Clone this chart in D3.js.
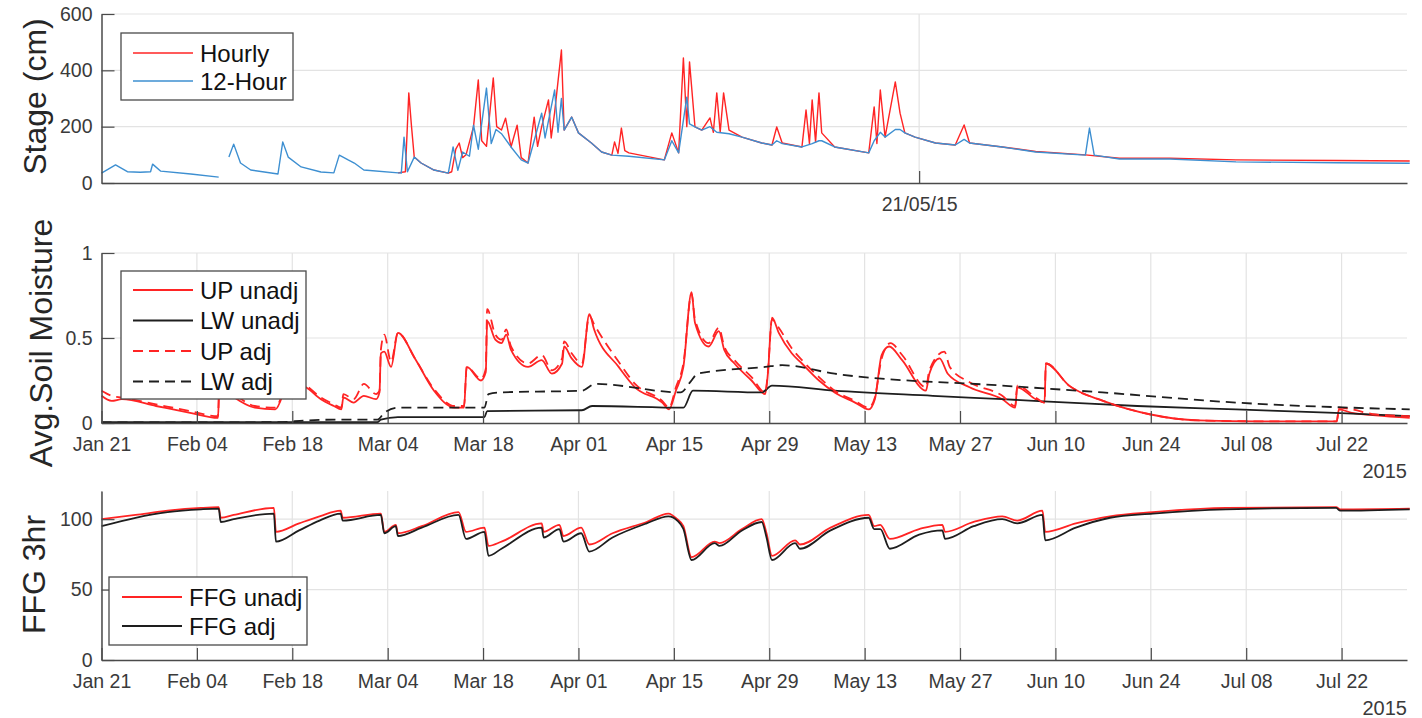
<!DOCTYPE html>
<html>
<head>
<meta charset="utf-8">
<script src="https://cdn.jsdelivr.net/npm/d3@7"></script>
<style>
	body { margin: 0; background: #fff; }
	svg { display: block; font-family: "Liberation Sans", Arial, Helvetica, sans-serif; }
</style>
</head>
<body>
<svg id="chart" width="1422" height="718"></svg>
<script>
// All series: [days since Jan 21 2015, value]
const stageHourly = [
	[43.5,36],[44.6,40],[45.1,320],[45.5,200],[45.9,92],[46.9,71],[48.8,46],[50.9,35],[51.4,40],[52.0,120],
	[52.5,142],[53.0,90],[53.5,100],[54.6,200],[55.3,366],[55.8,150],[56.5,130],[57.5,373],[58.0,200],[58.7,188],
	[59.3,230],[60.1,128],[61.0,205],[61.6,90],[62.6,71],[63.5,234],[64.0,130],[64.6,200],[65.6,295],[66.0,160],
	[66.5,250],[67.5,472],[67.9,188],[69.0,234],[70.0,178],[71.9,142],[73.4,110],[74.9,99],[75.3,146],[75.8,105],
	[76.3,195],[76.8,115],[77.4,107],[82.6,82],[83.7,178],[84.7,107],[85.4,444],[85.9,200],[86.3,430],[87.1,199],
	[88.1,188],[89.3,231],[89.8,180],[90.3,320],[90.8,180],[91.3,320],[92.1,188],[94.0,163],[96.9,142],[98.4,135],
	[99.1,199],[99.9,142],[102.8,128],[103.4,259],[103.9,140],[104.3,295],[104.8,145],[105.3,320],[105.7,178],[107.6,128],
	[112.6,107],[113.4,270],[113.8,140],[114.3,330],[115.0,163],[116.5,359],[117.2,248],[117.9,178],[119.4,163],[122.4,142],
	[125.3,135],[126.6,206],[127.4,142],[132.2,128],[137.1,112],[144.4,100],[149.4,88],[156.8,88],[166.5,82],[181.2,80],[192,78]
];
const stage12h = [
	[0,35],[2.06,64],[3.8,40],[5.7,38],[7.2,40],[7.5,67],[8.7,42],[13.1,32],[17.2,21],[17.9,null],
	[18.7,92],[19.4,138],[20.4,71],[21.9,46],[25.9,32],[26.6,146],[27.4,92],[29.3,57],[32.2,39],[34.1,36],
	[34.9,99],[36.2,82],[37.1,71],[38.5,46],[44.0,35],[44.4,163],[44.9,40],[45.9,92],[46.9,71],[48.8,46],
	[50.9,35],[51.6,128],[52.3,45],[53.0,110],[54.0,95],[54.6,205],[55.3,120],[56.5,337],[57.2,140],[57.9,190],
	[58.7,175],[60.1,128],[61.6,82],[62.6,71],[63.5,150],[64.6,248],[65.1,160],[66.5,330],[67.0,180],[67.5,300],
	[67.9,188],[69.0,234],[70.0,178],[71.9,142],[73.4,110],[74.9,99],[77.4,95],[82.6,82],[83.7,150],[84.7,107],
	[85.9,305],[86.3,210],[87.1,199],[88.1,188],[89.3,200],[90.3,180],[92.1,175],[94.0,163],[96.9,142],[98.4,135],
	[99.1,150],[99.9,140],[102.8,128],[104.3,140],[105.3,150],[105.7,150],[107.6,128],[112.6,107],[113.4,150],[114.3,180],
	[115.0,163],[116.5,190],[117.2,190],[117.9,178],[119.4,163],[122.4,142],[125.3,135],[126.6,155],[127.4,142],[132.2,128],
	[137.1,110],[144.4,99],[145.0,195],[145.7,99],[149.4,85],[156.8,85],[166.5,75],[181.2,72],[192,70]
];

const upUnadj = [
	[0,0.16],[1.5,0.13],[3,0.14],[8,0.10],[13,0.06],[17.1,0.03],[17.3,0.22],[19.5,0.15],[22.5,0.09],[25.5,0.08],
	[27.6,0.24],[30,0.21],[32.2,0.14],[34.1,0.10],[35.2,0.08],[35.5,0.15],[37,0.12],[38.5,0.16],[40.3,0.14],[40.8,0.18],
	[41.0,0.41],[41.5,0.42],[42.5,0.33],[43.5,0.53],[46,0.38],[48.8,0.19],[51.8,0.09],[53.2,0.09],[53.6,0.33],[55.7,0.25],
	[56.4,0.30],[56.6,0.60],[57.8,0.49],[58.7,0.47],[59.4,0.52],[60.1,0.43],[62.6,0.33],[64.6,0.37],[66.1,0.29],[67.6,0.35],
	[67.9,0.45],[69.0,0.38],[70.5,0.33],[71.6,0.64],[72.3,0.55],[75.9,0.33],[78.3,0.21],[82.3,0.12],[83.3,0.08],[84.3,0.19],
	[85.4,0.33],[86.6,0.77],[87.1,0.59],[89.1,0.45],[90.6,0.54],[91.4,0.43],[92.9,0.35],[95.4,0.25],[97.4,0.17],[97.8,0.29],
	[98.4,0.62],[99.4,0.53],[101.3,0.41],[102.8,0.35],[105.3,0.25],[107.6,0.18],[110.6,0.12],[112.6,0.08],[113.5,0.14],[114.5,0.40],
	[115.6,0.45],[117.5,0.37],[121,0.19],[121.5,0.29],[123.0,0.38],[124.2,0.29],[127.4,0.21],[132.2,0.14],[134.1,0.09],[134.4,0.21],
	[137.1,0.14],[138.4,0.12],[138.6,0.35],[142,0.22],[147,0.13],[154,0.05],[161,0.015],[170,0.01],[181.3,0.01],[181.6,0.08],
	[183.5,0.06],[187,0.045],[192,0.03]
];
const lwUnadj = [
	[0,0.005],[40.5,0.005],[41.0,0.02],[43.5,0.035],[56.2,0.035],[56.6,0.07],[70.5,0.075],[72,0.10],[85.4,0.09],[86.8,0.19],
	[96.9,0.18],[98.4,0.22],[107.6,0.19],[122,0.16],[132.2,0.14],[142,0.12],[152,0.10],[166.5,0.08],[181,0.06],[192,0.04]
];
const upAdj = [
	[0,0.19],[1.5,0.16],[3,0.15],[8,0.11],[13,0.07],[17.1,0.04],[17.3,0.24],[19.5,0.17],[22.5,0.10],[25.5,0.09],
	[27.6,0.26],[30,0.22],[32.2,0.15],[34.1,0.11],[35.2,0.09],[35.5,0.17],[37,0.14],[38.5,0.23],[40.3,0.17],[40.8,0.19],
	[41.0,0.43],[41.5,0.52],[42.5,0.36],[43.5,0.53],[46,0.38],[48.8,0.20],[51.8,0.10],[53.2,0.10],[53.6,0.33],[55.7,0.26],
	[56.4,0.32],[56.6,0.67],[57.8,0.52],[58.7,0.49],[59.4,0.55],[60.1,0.45],[62.6,0.35],[64.6,0.40],[66.1,0.31],[67.6,0.38],
	[67.9,0.48],[69.0,0.41],[70.5,0.35],[71.6,0.63],[72.3,0.58],[75.9,0.36],[78.3,0.23],[82.3,0.13],[83.3,0.09],[84.3,0.21],
	[85.4,0.35],[86.6,0.76],[87.1,0.61],[89.1,0.47],[90.6,0.56],[91.4,0.45],[92.9,0.37],[95.4,0.27],[97.4,0.18],[97.8,0.30],
	[98.4,0.61],[99.4,0.56],[101.3,0.44],[102.8,0.37],[105.3,0.27],[107.6,0.19],[110.6,0.13],[112.6,0.09],[113.5,0.15],[114.5,0.38],
	[115.8,0.47],[117.5,0.40],[121,0.21],[121.5,0.31],[123.7,0.42],[124.5,0.33],[127.4,0.24],[132.2,0.16],[134.1,0.10],[134.4,0.22],
	[137.1,0.15],[138.4,0.12],[138.6,0.35],[142,0.22],[147,0.13],[154,0.05],[161,0.015],[170,0.01],[181.3,0.01],[181.6,0.09],
	[183.5,0.08],[187,0.05],[192,0.04]
];
const lwAdj = [
	[0,0.003],[12,0.003],[26,0.005],[30,0.015],[35,0.02],[40.5,0.02],[41.5,0.06],[43.5,0.09],[56.2,0.09],[56.8,0.17],
	[58.7,0.18],[70.5,0.19],[72.5,0.23],[85.0,0.18],[86.4,0.24],[87.5,0.29],[97.4,0.33],[99.9,0.34],[107.6,0.29],[132.2,0.22],
	[146.9,0.18],[166.5,0.12],[192,0.08]
];

const ffgUnadj = [
	[0,100],[5,103],[9.7,106],[14.6,108],[17.2,108.5],[17.5,101],[19.4,103],[25.3,108],[25.6,91],[29,97],
	[32,102],[35.1,106],[35.4,101],[41.0,104],[41.5,91],[43.2,96],[43.5,90],[47,95],[52.4,105],[53.5,91],
	[56.2,94],[56.8,81],[58.7,84],[64.6,97],[64.9,91],[67.2,96],[67.8,88],[70.4,94],[71.6,82],[75,90],
	[80,98],[83.2,104],[84.5,100],[85.4,95],[86.6,73],[90.0,84],[90.7,83],[94,93],[96.9,100],[97.6,90],
	[98.4,74],[101.8,85],[102.5,82],[107,94],[112.6,103],[113.4,95],[114.3,96],[115.7,86],[120,93],[123.4,96],
	[123.8,91],[128,98],[132.2,102],[134.4,99],[138.1,106],[138.5,91],[143,97],[148,102],[154.3,105],[165,108],
	[181.2,108.5],[181.8,107],[192,107.5]
];
const ffgAdj = [
	[0,95],[5,101],[9.7,105],[14.6,107],[17.2,107.5],[17.5,98],[19.4,100],[25.3,104],[25.6,84],[29,92],
	[32,99],[35.1,104],[35.4,99],[41.0,103],[41.5,90],[43.2,95],[43.5,88],[47,94],[52.4,103],[53.5,86],
	[56.2,91],[56.8,74],[58.7,79],[64.6,94],[64.9,87],[67.2,93],[67.8,84],[70.4,90],[71.6,77],[75,87],
	[80,97],[83.2,102],[84.5,99],[85.4,93],[86.6,71],[90.0,83],[90.7,81],[94,92],[96.9,98],[97.6,87],
	[98.4,71],[101.8,83],[102.5,79],[107,92],[112.6,101],[113.4,93],[114.3,93],[115.7,79],[120,89],[123.4,92],
	[123.8,86],[128,95],[132.2,100],[134.4,97],[138.1,103],[138.5,85],[143,94],[148,101],[154.3,104],[165,107],
	[181.2,108],[181.8,106],[192,107]
];

// tick labels
const stageTicks = [0, 200, 400, 600];
const soilTicks = [0, 0.5, 1];
const ffgTicks = [0, 50, 100];
const stageDateTick = "2015-05-21";
const yearLabel = "2015";

// ---- layout ----
const svg = d3.select("#chart");
const t0 = new Date(2015, 0, 21);
const toDate = d => new Date(t0.getTime() + d * 864e5);
const x = d3.scaleTime().domain([t0, toDate(191.6)]).range([101.5, 1407]);
const dateTicks = d3.range(14).map(i => d3.timeDay.offset(t0, 14 * i));

const axisColor = "#4a4a4a";
const textColor = "#3a3a3a";
const gridColor = "#e3e3e3";
const red = "#ff2424";
const blue = "#3d8fd1";
const black = "#1e1e1e";

function panel(opts) {
	const y = d3.scaleLinear().domain(opts.domain).range(opts.range);
	const g = svg.append("g");
	const [x0, x1] = x.range();

	// grid
	g.selectAll("line.hgrid")
		.data(opts.yTicks.filter(v => v !== 0))
		.enter().append("line")
		.attr("x1", x0).attr("x2", x1)
		.attr("y1", d => y(d)).attr("y2", d => y(d))
		.attr("stroke", gridColor).attr("stroke-width", 1.2);
	g.selectAll("line.vgrid")
		.data(opts.xTicks)
		.enter().append("line")
		.attr("x1", d => x(d)).attr("x2", d => x(d))
		.attr("y1", opts.range[0]).attr("y2", opts.range[1])
		.attr("stroke", gridColor).attr("stroke-width", 1.2);

	// series
	opts.series.forEach(s => {
		const line = d3.line()
			.defined(d => d[1] != null)
			.x(d => x(toDate(d[0])))
			.y(d => y(d[1]))
			.curve(opts.curve || d3.curveLinear);
		g.append("path")
			.datum(s.data)
			.attr("fill", "none")
			.attr("stroke", s.color)
			.attr("stroke-width", s.width || 1.8)
			.attr("stroke-dasharray", s.dash || null)
			.attr("stroke-linejoin", "round")
			.attr("d", line);
	});

	// axes (MATLAB style: ticks point inward)
	const yAxis = g.append("g")
		.attr("transform", `translate(${x0},0)`)
		.call(d3.axisLeft(y).tickValues(opts.yTicks).tickFormat(d3.format("~g"))
			.tickSizeInner(-13).tickSizeOuter(0).tickPadding(9));
	const xAxis = g.append("g")
		.attr("transform", `translate(0,${opts.range[0]})`)
		.call(d3.axisBottom(x).tickValues(opts.xTicks).tickFormat(opts.xFormat)
			.tickSizeInner(-12).tickSizeOuter(0).tickPadding(14));
	[yAxis, xAxis].forEach(a => {
		a.select(".domain").attr("stroke", axisColor).attr("stroke-width", 1.5);
		a.selectAll(".tick line").attr("stroke", axisColor).attr("stroke-width", 1.2);
		a.selectAll("text").attr("fill", textColor)
			.style("font-size", "19.5px").style("font-family", "Liberation Sans, Arial, sans-serif");
	});
	xAxis.selectAll("text").attr("dy", "0.72em");

	// y label
	g.append("text")
		.attr("transform", `translate(${opts.labelX},${(opts.range[0] + opts.range[1]) / 2 + opts.labelDy}) rotate(-90)`)
		.attr("text-anchor", "middle")
		.attr("dominant-baseline", "central")
		.attr("fill", "#262626")
		.style("font-size", "32px")
		.text(opts.label);

	if (opts.year) {
		g.append("text")
			.attr("x", x1).attr("y", opts.range[0] + 55)
			.attr("text-anchor", "end")
			.attr("fill", textColor)
			.style("font-size", "20px")
			.text(yearLabel);
	}

	// legend
	const L = opts.legend;
	const lg = g.append("g");
	lg.append("rect")
		.attr("x", L.x).attr("y", L.y).attr("width", L.w).attr("height", L.h)
		.attr("fill", "#fff").attr("stroke", "#4a4a4a").attr("stroke-width", 1.3);
	opts.series.forEach((s, i) => {
		const ry = L.y + L.first + i * L.step;
		lg.append("line")
			.attr("x1", L.x + L.lineX).attr("x2", L.x + L.lineX + 60)
			.attr("y1", ry).attr("y2", ry)
			.attr("stroke", s.color).attr("stroke-width", s.width || 1.8)
			.attr("stroke-dasharray", s.dash || null);
		lg.append("text")
			.attr("x", L.x + L.lineX + 67).attr("y", ry)
			.attr("dominant-baseline", "central")
			.attr("fill", "#111")
			.style("font-size", "24px")
			.text(s.name);
	});
}

// Stage panel
panel({
	domain: [0, 600], range: [183, 14], yTicks: stageTicks,
	xTicks: [d3.timeParse("%Y-%m-%d")(stageDateTick)], xFormat: d3.timeFormat("%d/%m/%y"),
	label: "Stage (cm)", labelX: 35, labelDy: -2,
	series: [
		{ name: "Hourly", data: stageHourly, color: red, width: 1.4 },
		{ name: "12-Hour", data: stage12h, color: blue, width: 1.4 }
	],
	legend: { x: 121, y: 33, w: 172, h: 67, lineX: 12, first: 20, step: 28 }
});

// Soil moisture panel
panel({
	domain: [0, 1], range: [423, 253], yTicks: soilTicks,
	xTicks: dateTicks, xFormat: d3.timeFormat("%b %d"), year: true,
	label: "Avg.Soil Moisture", labelX: 41, labelDy: 5,
	curve: d3.curveMonotoneX,
	series: [
		{ name: "UP unadj", data: upUnadj, color: red },
		{ name: "LW unadj", data: lwUnadj, color: black },
		{ name: "UP adj", data: upAdj, color: red, dash: "10,6" },
		{ name: "LW adj", data: lwAdj, color: black, dash: "10,6" }
	],
	legend: { x: 121, y: 271, w: 185, h: 128, lineX: 12, first: 19, step: 30.5 }
});

// FFG panel
panel({
	domain: [0, 120], range: [660, 491], yTicks: ffgTicks,
	xTicks: dateTicks, xFormat: d3.timeFormat("%b %d"), year: true,
	label: "FFG 3hr", labelX: 34, labelDy: -1,
	curve: d3.curveMonotoneX,
	series: [
		{ name: "FFG unadj", data: ffgUnadj, color: red },
		{ name: "FFG adj", data: ffgAdj, color: black }
	],
	legend: { x: 109, y: 577, w: 198, h: 68, lineX: 13, first: 20, step: 29 }
});
</script>
</body>
</html>
